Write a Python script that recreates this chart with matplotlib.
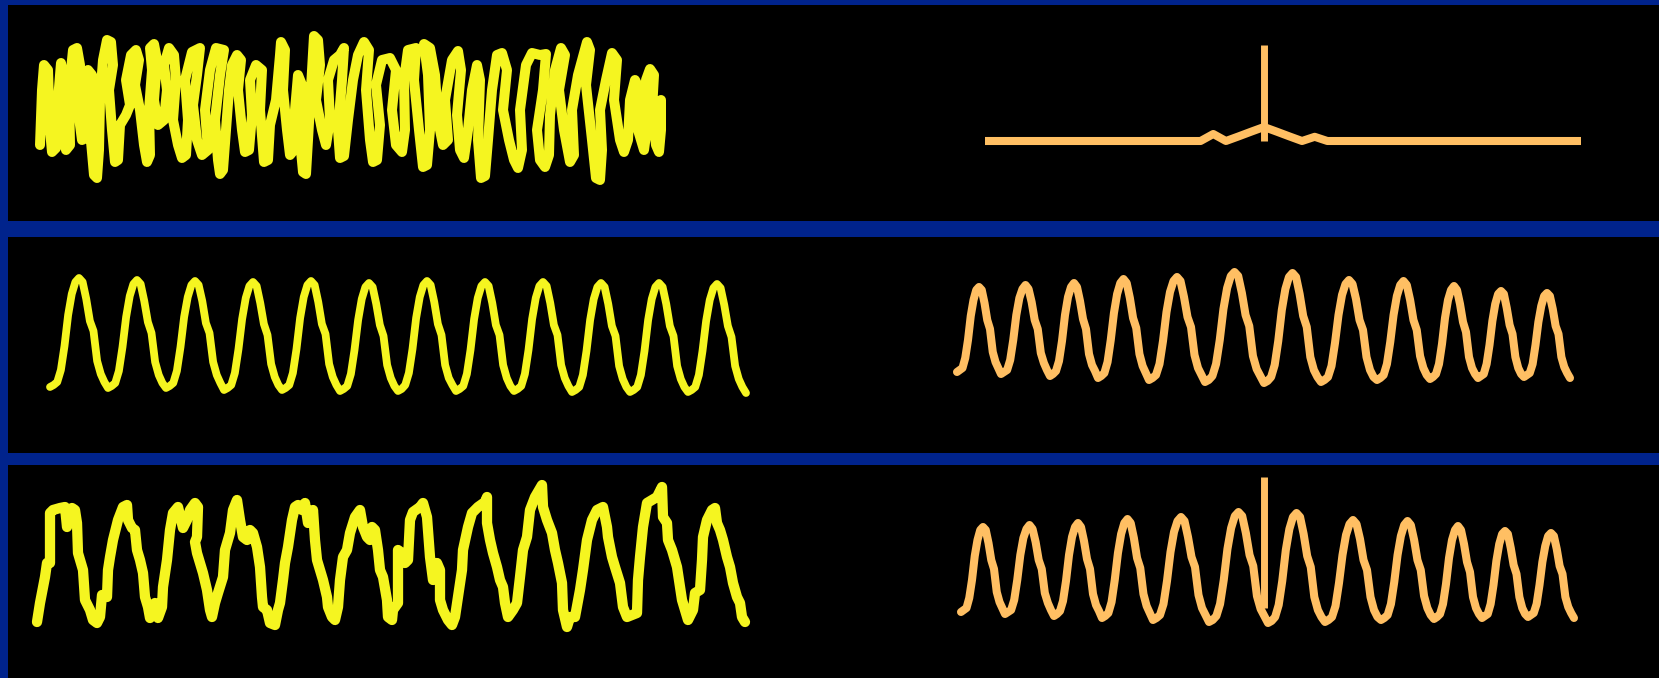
import matplotlib
matplotlib.use("Agg")
import matplotlib.pyplot as plt

W, H = 1659, 678
BLUE = "#00238C"
YELLOW = "#F5F520"
ORANGE = "#FFBF63"

# row 1: noise scribble (time, amplitude) and its flat spectrum
noise_points = [
    (0, -35), (2, 20), (4, 45), (8, 40), (10, -20), (12, -42), (16, -38), (18, 10), (21, 47), (24, 30),
    (22, -10), (26, -40), (30, -35), (29, 20), (33, 60), (37, 62), (40, 45), (38, 0), (42, -30), (46, -28),
    (44, 10), (48, 40), (52, 35), (50, -20), (54, -65), (57, -68), (59, -40), (60, 10), (63, 50), (67, 70),
    (71, 68), (73, 45), (69, 20), (72, -20), (75, -52), (78, -50), (80, -15), (86, -5), (90, 5), (86, 30),
    (91, 55), (96, 60), (99, 50), (95, 25), (100, 0), (104, -35), (107, -52), (110, -45), (109, 0), (112, 40),
    (110, 62), (114, 66), (117, 50), (114, 10), (118, -15), (124, -10), (127, 20), (124, 45), (129, 62), (134, 55),
    (136, 30), (133, -10), (138, -35), (142, -48), (146, -45), (148, -10), (145, 30), (152, 58), (160, 62), (157, 35),
    (153, 5), (157, -30), (162, -45), (168, -40), (165, 0), (170, 40), (176, 62), (184, 60), (180, 35), (175, -10),
    (178, -50), (180, -64), (183, -60), (186, -20), (189, 20), (192, 45), (197, 55), (201, 50), (198, 20), (202, -20),
    (205, -42), (209, -40), (212, -5), (210, 30), (216, 45), (222, 40), (220, 0), (224, -52), (228, -50), (230, -15),
    (236, 10), (240, 55), (241, 68), (245, 60), (243, 20), (247, -20), (250, -45), (254, -40), (255, 0), (258, 35),
    (262, 25), (260, -30), (263, -62), (266, -64), (268, -30), (272, 40), (274, 74), (278, 70), (280, 45), (276, 10),
    (282, -20), (286, -35), (290, -10), (288, 30), (294, 50), (300, 55), (304, 62), (302, 30), (298, -20), (300, -48),
    (304, -46), (308, -10), (313, 30), (318, 55), (324, 68), (329, 60), (326, 20), (330, -30), (333, -52), (337, -50),
    (340, -15), (336, 25), (342, 50), (350, 52), (356, 40), (352, 0), (356, -35), (362, -42), (365, -20), (364, 30),
    (368, 60), (376, 62), (374, 30), (379, -20), (383, -57), (387, -55), (390, -20), (388, 35), (384, 66), (390, 62),
    (395, 35), (398, -10), (403, -35), (408, -30), (405, 10), (412, 50), (418, 59), (421, 40), (417, -5), (420, -40),
    (424, -48), (428, -20), (432, 20), (437, 45), (440, 30), (438, -30), (441, -68), (445, -66), (448, -30), (452, 20),
    (457, 55), (462, 57), (467, 40), (463, 0), (469, -30), (474, -50), (478, -58), (482, -40), (480, 0), (486, 45),
    (492, 57), (500, 55), (506, 56), (503, 20), (497, -20), (500, -50), (505, -57), (509, -45), (510, -5), (515, 40),
    (521, 62), (525, 55), (519, 20), (524, -20), (530, -52), (534, -45), (532, 0), (538, 35), (547, 68), (550, 60),
    (546, 25), (552, -30), (556, -68), (560, -70), (562, -40), (560, 0), (566, 30), (572, 57), (577, 50), (574, 10),
    (580, -30), (584, -42), (588, -30), (590, 10), (595, 30), (600, 20), (598, -20), (604, -40), (608, -10), (606, 30),
    (610, 41), (614, 35), (612, 0), (616, -35), (619, -42), (621, -20), (621, 10),
]

flat_spectrum = [0, 0, 0, 0, 0, 0, 0, 0, 0, 0, 0, 0, 0, 0, 0, 0, 0, 0, 0.5, 0, 0.33, 0.67, 1.0, 0.67,
                 0.33, 0, 0.3, 0, 0, 0, 0, 0, 0, 0, 0, 0, 0, 0, 0, 0, 0, 0, 0, 0, 0, 0, 0, 0]
flat_peak_bin = 22
flat_peak = 6.86

# row 2: clean periodic signal, one list of samples per cycle (cycle starts at a trough)
signal_edges = [0, 58, 116, 174, 232, 290, 348, 406, 464, 522, 580, 638, 696]
signal_cycles = [
    [0.03, 0.05, 0.08, 0.20, 0.44, 0.75, 0.96, 1.08, 1.12, 1.08, 0.91, 0.69, 0.59, 0.29, 0.16, 0.08],
    [0.02, 0.04, 0.07, 0.19, 0.43, 0.73, 0.94, 1.06, 1.10, 1.06, 0.89, 0.68, 0.57, 0.28, 0.15, 0.07],
    [0.02, 0.04, 0.07, 0.19, 0.43, 0.73, 0.93, 1.05, 1.09, 1.05, 0.89, 0.67, 0.57, 0.28, 0.15, 0.07],
    [0.00, 0.02, 0.05, 0.17, 0.41, 0.71, 0.92, 1.04, 1.08, 1.04, 0.87, 0.66, 0.55, 0.26, 0.13, 0.05],
    [0.00, 0.02, 0.05, 0.17, 0.41, 0.72, 0.93, 1.05, 1.09, 1.05, 0.88, 0.66, 0.56, 0.26, 0.13, 0.05],
    [-0.01, 0.01, 0.04, 0.16, 0.40, 0.70, 0.91, 1.03, 1.07, 1.03, 0.86, 0.65, 0.54, 0.25, 0.12, 0.04],
    [-0.01, 0.01, 0.05, 0.17, 0.41, 0.72, 0.93, 1.05, 1.09, 1.05, 0.88, 0.66, 0.55, 0.25, 0.12, 0.05],
    [-0.01, 0.01, 0.04, 0.16, 0.40, 0.71, 0.92, 1.04, 1.08, 1.04, 0.87, 0.65, 0.55, 0.25, 0.12, 0.04],
    [-0.01, 0.01, 0.04, 0.16, 0.40, 0.71, 0.92, 1.04, 1.08, 1.04, 0.87, 0.65, 0.55, 0.25, 0.12, 0.04],
    [-0.02, 0.00, 0.03, 0.15, 0.39, 0.70, 0.91, 1.03, 1.07, 1.03, 0.86, 0.64, 0.54, 0.24, 0.11, 0.03],
    [-0.02, 0.00, 0.03, 0.15, 0.39, 0.70, 0.91, 1.03, 1.07, 1.03, 0.86, 0.64, 0.54, 0.24, 0.11, 0.03],
    [-0.02, 0.00, 0.03, 0.15, 0.39, 0.69, 0.90, 1.02, 1.06, 1.02, 0.85, 0.64, 0.53, 0.24, 0.11, 0.03],
]
signal_end = -0.03

# row 2 / row 3 right: modulated wave
wave_edges = [0, 44, 93, 141, 192, 248, 307, 364, 420, 473, 521, 567, 613]
wave_cycles = [
    [0.08, 0.10, 0.12, 0.22, 0.40, 0.64, 0.80, 0.90, 0.93, 0.90, 0.77, 0.60, 0.51, 0.28, 0.18, 0.12],
    [0.06, 0.08, 0.10, 0.20, 0.40, 0.65, 0.82, 0.91, 0.95, 0.91, 0.78, 0.60, 0.51, 0.27, 0.17, 0.10],
    [0.04, 0.06, 0.09, 0.19, 0.39, 0.65, 0.83, 0.93, 0.97, 0.93, 0.79, 0.61, 0.51, 0.26, 0.15, 0.09],
    [0.02, 0.04, 0.07, 0.18, 0.40, 0.67, 0.86, 0.97, 1.01, 0.97, 0.82, 0.62, 0.52, 0.26, 0.14, 0.07],
    [0.00, 0.02, 0.05, 0.16, 0.39, 0.68, 0.88, 0.99, 1.03, 0.99, 0.83, 0.63, 0.53, 0.25, 0.12, 0.05],
    [-0.02, 0.00, 0.04, 0.16, 0.40, 0.71, 0.92, 1.04, 1.08, 1.04, 0.87, 0.65, 0.54, 0.24, 0.11, 0.04],
    [-0.03, -0.01, 0.03, 0.15, 0.39, 0.70, 0.91, 1.03, 1.07, 1.03, 0.86, 0.64, 0.53, 0.23, 0.10, 0.03],
    [-0.02, 0.00, 0.03, 0.14, 0.37, 0.65, 0.85, 0.96, 1.00, 0.96, 0.81, 0.60, 0.50, 0.23, 0.10, 0.03],
    [0.00, 0.02, 0.05, 0.16, 0.38, 0.65, 0.84, 0.95, 0.99, 0.95, 0.80, 0.60, 0.50, 0.24, 0.12, 0.05],
    [0.01, 0.03, 0.06, 0.16, 0.36, 0.62, 0.80, 0.90, 0.94, 0.90, 0.76, 0.58, 0.48, 0.23, 0.12, 0.06],
    [0.02, 0.04, 0.06, 0.16, 0.35, 0.59, 0.76, 0.86, 0.89, 0.86, 0.72, 0.55, 0.46, 0.23, 0.12, 0.06],
    [0.03, 0.05, 0.07, 0.16, 0.35, 0.58, 0.74, 0.84, 0.87, 0.84, 0.71, 0.54, 0.46, 0.23, 0.13, 0.07],
]
wave_end = 0.02

# row 3: noisy signal (time, amplitude) and the spike added to the wave
noisy_points = [
    (0, 3), (3, 22), (8, 48), (10, 62), (13, 62), (13, 112), (16, 115), (23, 117), (28, 118), (30, 98),
    (35, 117), (38, 115), (40, 102), (41, 72), (46, 55), (48, 25), (53, 15), (56, 5), (60, 2), (63, 8),
    (65, 30), (70, 28), (71, 55), (73, 68), (76, 85), (81, 105), (86, 118), (90, 120), (91, 105), (95, 97),
    (98, 95), (100, 75), (103, 65), (106, 52), (108, 28), (111, 18), (113, 7), (118, 22), (121, 7), (125, 18),
    (126, 38), (130, 65), (131, 75), (133, 95), (136, 112), (141, 118), (146, 97), (150, 105), (153, 115), (158, 122),
    (161, 118), (160, 88), (158, 83), (160, 72), (163, 62), (166, 52), (170, 35), (173, 15), (175, 8), (178, 22),
    (181, 32), (186, 48), (188, 75), (193, 92), (196, 115), (200, 125), (203, 105), (206, 88), (210, 85), (213, 95),
    (216, 92), (220, 78), (223, 58), (225, 28), (226, 18), (230, 15), (233, 2), (238, 0), (241, 15), (243, 22),
    (246, 45), (248, 62), (251, 78), (255, 105), (258, 118), (261, 120), (265, 115), (268, 122), (271, 102), (275, 105),
    (276, 115), (278, 85), (280, 65), (283, 55), (286, 45), (290, 28), (291, 18), (295, 8), (298, 5), (301, 18),
    (303, 45), (306, 68), (310, 75), (313, 92), (318, 108), (323, 115), (326, 98), (330, 88), (333, 85), (335, 98),
    (338, 95), (341, 75), (343, 55), (346, 48), (350, 25), (351, 8), (355, 5), (356, 15), (361, 22), (361, 75),
    (365, 72), (368, 62), (371, 65), (373, 105), (376, 113), (383, 118), (386, 122), (390, 108), (391, 95), (393, 68),
    (396, 45), (400, 62), (403, 55), (403, 25), (406, 15), (411, 5), (415, 0), (418, 8), (421, 28), (425, 55),
    (426, 75), (431, 98), (435, 112), (441, 118), (448, 123), (450, 128), (450, 102), (453, 85), (456, 72), (460, 58),
    (463, 45), (466, 38), (468, 22), (471, 8), (476, 15), (480, 22), (483, 48), (486, 75), (490, 88), (493, 115),
    (498, 128), (505, 140), (506, 118), (510, 105), (515, 92), (518, 75), (521, 62), (525, 42), (526, 15), (530, -2),
    (533, 8), (538, 8), (543, 35), (546, 55), (550, 85), (555, 105), (560, 115), (566, 118), (570, 98), (571, 88),
    (575, 68), (578, 58), (583, 42), (586, 18), (590, 8), (595, 10), (600, 12), (601, 45), (603, 68), (606, 98),
    (610, 122), (615, 125), (620, 128), (625, 138), (626, 108), (630, 102), (631, 85), (635, 75), (640, 58), (643, 38),
    (645, 25), (648, 15), (651, 5), (656, 15), (658, 32), (663, 35), (665, 65), (666, 88), (670, 105), (675, 115),
    (678, 117), (680, 102), (683, 95), (686, 85), (690, 68), (693, 58), (696, 42), (700, 28), (703, 22), (705, 8),
    (708, 3),
]
wave_spike_t = 303
wave_spike_range = (0.12, 1.43)


def px_axes(fig, x0, y0, x1, y1):
    # box given in image pixels, y measured from the top
    return fig.add_axes([x0 / W, 1 - y1 / H, (x1 - x0) / W, (y1 - y0) / H])


def panel(fig, y0, y1):
    ax = px_axes(fig, 8, y0, W, y1)
    ax.set_facecolor("black")
    ax.set_xticks([])
    ax.set_yticks([])
    for s in ax.spines.values():
        s.set_visible(False)


def signal_ax(fig, box, xlim, ylim):
    ax = px_axes(fig, *box)
    ax.set_xlim(*xlim)
    ax.set_ylim(*ylim)
    ax.axis("off")
    return ax


def unroll(edges, cycles, end):
    xs, ys = [], []
    for i, cyc in enumerate(cycles):
        n = len(cyc)
        for k, v in enumerate(cyc):
            xs.append(edges[i] + k * (edges[i + 1] - edges[i]) / n)
            ys.append(v)
    xs.append(edges[-1])
    ys.append(end)
    return xs, ys


fig = plt.figure(figsize=(W / 100, H / 100), dpi=100, facecolor=BLUE)

panel(fig, 5, 221)
panel(fig, 237, 453)
panel(fig, 465, H)

# row 1 left: noise
ax = signal_ax(fig, (40, 40, 661, 180), (0, 621), (-70, 70))
nt, nv = zip(*noise_points)
ax.plot(nt, nv, color=YELLOW, lw=7.2, solid_joinstyle="round", solid_capstyle="round", clip_on=False)

# row 1 right: flat spectrum with one spike
ax = signal_ax(fig, (985, 127, 1581, 141), (0, len(flat_spectrum) - 1), (0, 1))
ax.plot(range(len(flat_spectrum)), flat_spectrum, color=ORANGE, lw=5.8,
        solid_capstyle="butt", solid_joinstyle="round", clip_on=False)
ax.plot([flat_peak_bin, flat_peak_bin], [0, flat_peak], color=ORANGE, lw=5.0,
        solid_capstyle="butt", clip_on=False)

# row 2 left: clean signal
ax = signal_ax(fig, (50, 290, 746, 390), (0, signal_edges[-1]), (0, 1))
sx, sy = unroll(signal_edges, signal_cycles, signal_end)
ax.plot(sx, sy, color=YELLOW, lw=5.6, solid_capstyle="round", clip_on=False)

# row 2 right: modulated wave
wx, wy = unroll(wave_edges, wave_cycles, wave_end)
ax = signal_ax(fig, (957, 280, 1570, 380), (0, wave_edges[-1]), (0, 1))
ax.plot(wx, wy, color=ORANGE, lw=5.8, solid_capstyle="round", clip_on=False)

# row 3 left: noisy signal
ax = signal_ax(fig, (37, 485, 745, 625), (0, 708), (0, 140))
qt, qv = zip(*noisy_points)
ax.plot(qt, qv, color=YELLOW, lw=7.4, solid_joinstyle="round", solid_capstyle="round", clip_on=False)

# row 3 right: modulated wave plus spike
ax = signal_ax(fig, (961, 520, 1574, 620), (0, wave_edges[-1]), (0, 1))
ax.plot(wx, wy, color=ORANGE, lw=5.8, solid_capstyle="round", clip_on=False)
ax.plot([wave_spike_t, wave_spike_t], list(wave_spike_range), color=ORANGE, lw=5.0,
        solid_capstyle="butt", clip_on=False)

fig.savefig("out.png", dpi=100, facecolor=BLUE)
